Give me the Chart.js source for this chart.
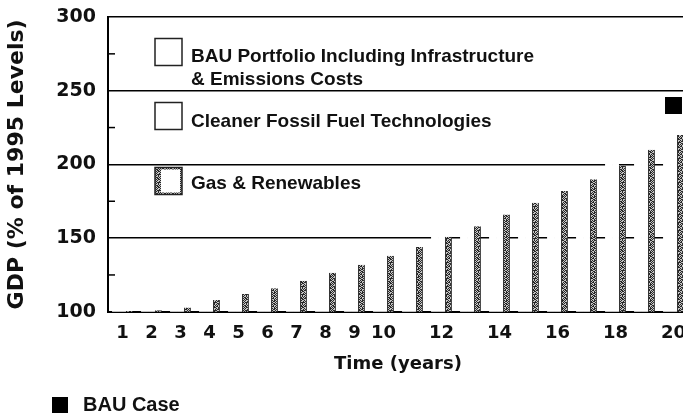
<!DOCTYPE html>
<html>
<head>
<meta charset="utf-8">
<script src="https://cdn.jsdelivr.net/npm/chart.js@4"></script>
<style>
html, body { margin: 0; padding: 0; overflow: hidden; background: #fff; }
</style>
</head>
<body>
<canvas id="myChart" width="690" height="418"></canvas>
<script>
const years = ['1', '2', '3', '4', '5', '6', '7', '8', '9', '10', '11', '12', '13', '14', '15', '16', '17', '18', '19', '20'];
const tickLabels = ['1', '2', '3', '4', '5', '6', '7', '8', '9', '10', '', '12', '', '14', '', '16', '', '18', '', '20'];

// white bars, only visible where they cut the grid lines
const bauPortfolio = [100.5, 101.5, 104, 109, 113, 117, 122, 127.5, 133, 139, 145, 152, 159, 167, 175, 183, 191.5, 201, 211, 221];
const cleanerFossil = [100.5, 101.5, 103.5, 108.5, 112.5, 116.5, 121.5, 127, 132.5, 138.5, 144.5, 151.5, 158.5, 166.5, 174.5, 182.5, 191, 200.5, 210.5, 220.5];
const gasRenewables = [100.5, 101, 103, 108, 112, 116, 121, 126.5, 132, 138, 144, 151, 158, 166, 174, 182, 190, 199, 210, 220];
const bauCase = [null, null, null, null, null, null, null, null, null, null, null, null, null, null, null, null, null, null, null, 240];

const seriesNames = [
    ['BAU Portfolio Including Infrastructure', '& Emissions Costs'],
    ['Cleaner Fossil Fuel Technologies'],
    ['Gas & Renewables']
];
const bauCaseName = 'BAU Case';
const minorTicks = [125, 175, 225, 275];

const ctx = document.getElementById('myChart');

function makeSpeckle()
{
    const rows = [
        "10110010",
        "01001101",
        "11010110",
        "00101011",
        "10110100",
        "01101001",
        "10010111",
        "01101010"
    ];
    const c = document.createElement('canvas');
    c.width = 8;
    c.height = 8;
    const g = c.getContext('2d');
    g.fillStyle = '#c4c4c4';
    g.fillRect(0, 0, 8, 8);
    g.fillStyle = '#262626';
    rows.forEach((row, y) =>
    {
        for (let x = 0; x < 8; x++)
        {
            if (row[x] == '1') g.fillRect(x, y, 1, 1);
        }
    });
    return ctx.getContext('2d').createPattern(c, 'repeat');
}
const speckle = makeSpeckle();

// legend boxes sit inside the plot, BAU case goes under the axis title
const legendBoxes = {
    id: 'legendBoxes',
    afterDraw(chart)
    {
        const g = chart.ctx;
        const area = chart.chartArea;
        const boxTops = [21.5, 85.5, 150.5];
        const lineYs = [[39.5, 62.5], [104.5], [166.5]];
        g.save();
        g.font = 'bold 19px "Liberation Sans"';
        g.textBaseline = 'middle';
        g.textAlign = 'left';
        for (let i = 0; i < 3; i++)
        {
            const bx = area.left + 47;
            const by = area.top + boxTops[i];
            g.fillStyle = i == 2 ? speckle : '#fff';
            g.fillRect(bx, by, 27, 27);
            if (i == 2)
            {
                g.fillStyle = '#fff';
                g.fillRect(bx + 6, by + 2, 19, 23);
            }
            g.strokeStyle = '#222';
            g.lineWidth = 1.5;
            g.strokeRect(bx, by, 27, 27);
            g.fillStyle = '#111';
            seriesNames[i].forEach((line, j) =>
            {
                g.fillText(line, area.left + 83, area.top + lineYs[i][j]);
            });
        }
        g.fillStyle = '#000';
        g.fillRect(52, 397, 16, 16);
        g.font = 'bold 20px "Liberation Sans"';
        g.fillStyle = '#111';
        g.fillText(bauCaseName, 83, 405.5);

        const y = chart.scales.y;
        g.strokeStyle = '#000';
        g.lineWidth = 1.5;
        minorTicks.forEach(v =>
        {
            const py = y.getPixelForValue(v);
            g.beginPath();
            g.moveTo(area.left, py);
            g.lineTo(area.left + 7, py);
            g.stroke();
        });
        g.restore();
    }
};

const tickFont = { family: 'DejaVu Sans', size: 18, weight: 'bold' };

new Chart(ctx,
{
    type: 'bar',
    data: {
        labels: years,
        datasets: [
            {
                label: seriesNames[0].join(' '),
                data: bauPortfolio,
                backgroundColor: '#fff',
                borderWidth: 0
            },
            {
                label: seriesNames[1].join(' '),
                data: cleanerFossil,
                backgroundColor: '#fff',
                borderWidth: 0
            },
            {
                label: seriesNames[2].join(' '),
                data: gasRenewables,
                backgroundColor: speckle,
                borderColor: '#333',
                borderWidth: { left: 1, right: 1, top: 0, bottom: 0 }
            },
            {
                type: 'line',
                label: bauCaseName,
                data: bauCase,
                showLine: false,
                pointStyle: 'rect',
                pointRadius: 12,
                pointBackgroundColor: '#000',
                pointBorderColor: '#000',
                borderWidth: 0
            }
        ]
    },
    options: {
        responsive: false,
        animation: false,
        layout: { autoPadding: false, padding: { left: 2, right: 2, top: 17, bottom: 39 } },
        datasets: {
            bar: { categoryPercentage: 0.72, barPercentage: 1 }
        },
        plugins: {
            legend: { display: false },
            tooltip: { enabled: false }
        },
        scales: {
            x: {
                grid: { display: false },
                border: { color: '#000', width: 2 },
                ticks: {
                    autoSkip: false,
                    maxRotation: 0,
                    padding: 3,
                    color: '#111',
                    font: tickFont,
                    callback: (v, i) => tickLabels[i]
                },
                title: {
                    display: true,
                    text: 'Time (years)',
                    color: '#111',
                    font: tickFont,
                    padding: { top: 6, bottom: 4 }
                }
            },
            y: {
                min: 100,
                max: 300,
                afterFit: s =>
                {
                    s.width = 106;
                    s.paddingTop = 0;
                    s.paddingBottom = 0;
                },
                grid: { color: '#000', lineWidth: 1.5, drawTicks: false },
                border: { color: '#000', width: 2 },
                ticks: {
                    stepSize: 50,
                    padding: 12,
                    color: '#111',
                    font: { family: 'DejaVu Sans', size: 19, weight: 'bold' }
                },
                title: {
                    display: true,
                    text: 'GDP (% of 1995 Levels)',
                    color: '#111',
                    font: { family: 'DejaVu Sans', size: 22, weight: 'bold' },
                    padding: { top: 2, bottom: 4 }
                }
            }
        }
    },
    plugins: [legendBoxes]
});
</script>
</body>
</html>
